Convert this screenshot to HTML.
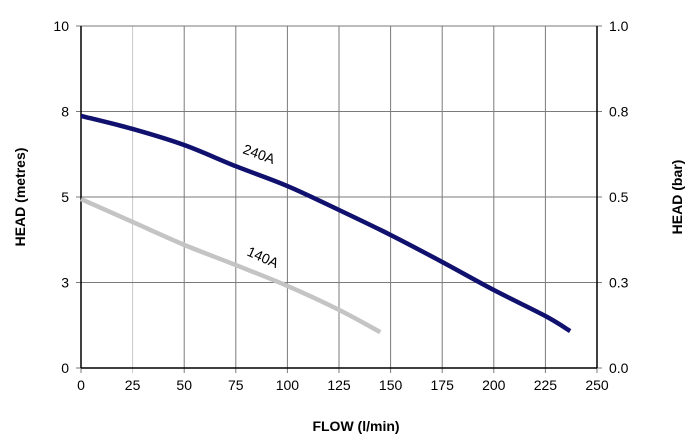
<!DOCTYPE html>
<html><head><meta charset="utf-8"><style>
body{margin:0;background:#fff;}
svg text{font-family:"Liberation Sans",Arial,sans-serif;fill:#000;}
</style></head><body>
<svg id="chart" width="689" height="443" xmlns="http://www.w3.org/2000/svg">
<g id="grid"></g><g id="axes"></g><g id="series"></g>
<text x="356" y="431" text-anchor="middle" font-size="14" font-weight="bold">FLOW (l/min)</text>
<text transform="translate(25,197) rotate(-90)" text-anchor="middle" font-size="14" font-weight="bold">HEAD (metres)</text>
<text transform="translate(682,197) rotate(-90)" text-anchor="middle" font-size="14" font-weight="bold">HEAD (bar)</text>
</svg>
<script>
const xTicks=[0,25,50,75,100,125,150,175,200,225,250];
const yTicks=[0,2.5,5,7.5,10];
const yLabels=["0","3","5","8","10"];
const yRightLabels=["0.0","0.3","0.5","0.8","1.0"];
const flow240=[0,25,50,75,100,125,150,175,200,225,237];
const head240=[7.37,6.99,6.52,5.9,5.32,4.62,3.89,3.1,2.28,1.52,1.08];
const flow140=[0,25,50,75,100,125,145];
const head140=[4.94,4.27,3.6,3.01,2.4,1.7,1.05];
const L=81,R=597,T=26,B=368;
const sx=v=>L+v/250*(R-L), sy=v=>B-v/10*(B-T);
const NS="http://www.w3.org/2000/svg";
function mk(tag,attrs,parent){const e=document.createElementNS(NS,tag);for(const k in attrs)e.setAttribute(k,attrs[k]);parent.appendChild(e);return e;}
function smooth(pts){let d='M'+pts[0][0]+','+pts[0][1];for(let i=0;i<pts.length-1;i++){const p0=pts[i-1]||pts[i],p1=pts[i],p2=pts[i+1],p3=pts[i+2]||p2;d+=' C'+(p1[0]+(p2[0]-p0[0])/6)+','+(p1[1]+(p2[1]-p0[1])/6)+' '+(p2[0]-(p3[0]-p1[0])/6)+','+(p2[1]-(p3[1]-p1[1])/6)+' '+p2[0]+','+p2[1];}return d;}
const g=document.getElementById('grid'),ax=document.getElementById('axes'),s=document.getElementById('series');
xTicks.forEach((t,i)=>{
 const l=mk('line',{x1:sx(t),x2:sx(t),y1:T,y2:B+5,stroke:(t===25?'#c8c8c8':'#7a7a7a'),'stroke-width':1},g);
 
 
 const tx=mk('text',{x:sx(t),y:B+22,'text-anchor':'middle','font-size':14},ax);
 tx.textContent=t;
 
 
});
yTicks.forEach((t,i)=>{
 const l=mk('line',{x1:L-5,x2:R+5,y1:sy(t),y2:sy(t),stroke:'#7a7a7a','stroke-width':1},g);
 
 
 const a=mk('text',{x:L-12,y:sy(t)+5,'text-anchor':'end','font-size':14},ax);
 a.textContent=yLabels[i];
 
 
 const b=mk('text',{x:R+12,y:sy(t)+5,'text-anchor':'start','font-size':14},ax);
 b.textContent=yRightLabels[i];
 
 
});
const la=mk('line',{x1:L,x2:L,y1:T,y2:B,stroke:'#000','stroke-width':1.5},ax);


const ra=mk('line',{x1:R,x2:R,y1:T,y2:B,stroke:'#000','stroke-width':1.5},ax);


const ba=mk('line',{x1:L,x2:R,y1:B,y2:B,stroke:'#000','stroke-width':1.5},ax);


const p140=mk('path',{d:smooth(flow140.map((f,i)=>[sx(f),sy(head140[i])])),fill:'none',stroke:'#c4c4c4','stroke-width':4.5},s);


const p240=mk('path',{d:smooth(flow240.map((f,i)=>[sx(f),sy(head240[i])])),fill:'none',stroke:'#10106e','stroke-width':4.5},s);


const t1=mk('text',{x:0,y:0,'font-size':14,transform:'translate(242,153) rotate(20)'},s);
t1.textContent='240A';


const t2=mk('text',{x:0,y:0,'font-size':14,transform:'translate(246,255) rotate(24)'},s);
t2.textContent='140A';


</script>
</body></html>
